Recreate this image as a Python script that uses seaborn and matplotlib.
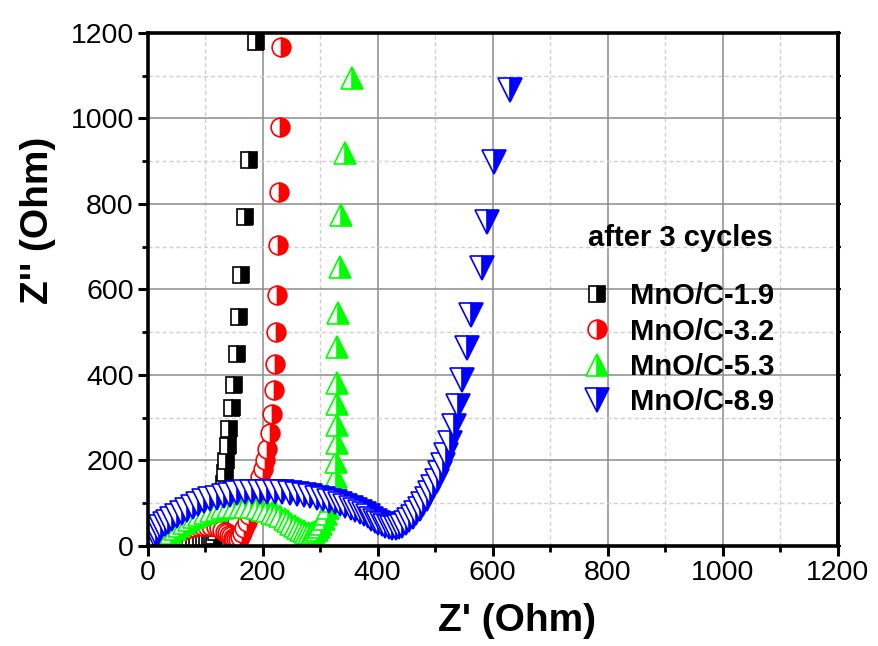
import matplotlib
matplotlib.use("Agg")
import matplotlib.pyplot as plt
import seaborn as sns
import pandas as pd
from matplotlib.ticker import MultipleLocator

sns.set_style("ticks")
plt.rcParams['font.family'] = ['Liberation Sans', 'DejaVu Sans']
plt.rcParams['text.color'] = 'black'
plt.rcParams['axes.labelcolor'] = 'black'
plt.rcParams['xtick.color'] = 'black'
plt.rcParams['ytick.color'] = 'black'

# ---------------- data ----------------
legend_title = "after 3 cycles"
labels = ["MnO/C-1.9", "MnO/C-3.2", "MnO/C-5.3", "MnO/C-8.9"]

zre_19 = [38, 44, 50, 56, 62, 68, 74, 80, 86, 92, 98, 103, 108, 112, 115, 118, 121, 123,
          125, 127, 129, 131, 133, 135, 137, 139, 142, 146, 151, 155, 159, 163, 169, 176, 188]
zim_19 = [2, 5, 8, 10, 12, 13, 14, 14, 14, 13, 13, 13, 15, 18, 24, 32, 42, 54,
          68, 84, 102, 122, 145, 170, 198, 234, 274, 323, 377, 449, 536, 634, 770, 903, 1179]

zre_32 = [22, 26, 31, 37, 43, 50, 57, 64, 72, 80, 88, 96, 104, 111, 118, 124, 129, 134, 138,
          142, 145, 148, 151, 154, 157, 160, 164, 168, 172, 176, 180, 184, 188, 192, 196, 200,
          204, 208, 212, 216, 219, 222, 224, 225, 226, 228, 230, 232]
zim_32 = [2, 7, 13, 19, 24, 29, 34, 38, 41, 44, 46, 47, 47, 46, 44, 41, 37, 33, 29,
          25, 22, 19, 17, 16, 17, 21, 30, 42, 56, 72, 88, 104, 121, 140, 160, 180,
          200, 227, 264, 309, 365, 426, 501, 587, 704, 828, 980, 1166]

zre_53 = [18, 22, 27, 33, 40, 47, 55, 63, 72, 81, 90, 100, 110, 120, 130, 140, 150, 160, 170,
          180, 190, 199, 208, 216, 224, 231, 238, 244, 250, 256, 261, 266, 271, 276, 281, 286,
          290, 294, 298, 302, 306, 310, 314, 318, 322, 325, 327, 328, 329, 329, 329, 329, 330,
          331, 334, 337, 344, 355]
zim_53 = [2, 8, 15, 23, 31, 39, 47, 54, 61, 67, 72, 77, 81, 85, 88, 90, 91, 92, 91,
          90, 88, 85, 82, 78, 74, 70, 64, 58, 52, 46, 41, 37, 34, 31, 30, 31,
          33, 37, 43, 51, 62, 75, 89, 104, 120, 138, 160, 196, 241, 283, 332, 381, 466,
          545, 653, 774, 919, 1095]

zre_89 = [8, 9, 10, 12, 15, 19, 24, 30, 36, 43, 51, 59, 68, 78, 88, 98, 109, 120, 132, 144,
          156, 169, 182, 195, 208, 221, 234, 247, 259, 271, 283, 294, 305, 315, 325, 335, 344,
          353, 361, 369, 376, 383, 389, 395, 401, 407, 413, 419, 425, 431, 437, 443, 449, 455,
          461, 467, 473, 479, 485, 491, 497, 503, 508, 514, 519, 525, 532, 539, 546, 556, 563,
          581, 590, 602, 630]
zim_89 = [2, 8, 15, 22, 29, 36, 43, 50, 57, 64, 71, 78, 85, 92, 98, 104, 109, 113, 117, 120,
          123, 125, 126, 127, 127, 126, 125, 123, 121, 119, 116, 113, 110, 106, 102, 98, 94,
          89, 84, 79, 74, 69, 64, 59, 54, 50, 46, 43, 41, 41, 43, 47, 53, 60,
          68, 77, 87, 98, 110, 123, 137, 152, 170, 190, 212, 241, 281, 327, 388, 463, 540,
          650, 758, 898, 1067]

x_ticks = [0, 200, 400, 600, 800, 1000, 1200]
y_ticks = [0, 200, 400, 600, 800, 1000, 1200]

# ---------------- styles ----------------
styles = [
    dict(color="#000000", marker="s", ms=11.5),
    dict(color="#FF0000", marker="o", ms=13.5),
    dict(color="#00FF00", marker="^", ms=15.5),
    dict(color="#0000FF", marker="v", ms=17.0),
]
series = [(zre_19, zim_19), (zre_32, zim_32), (zre_53, zim_53), (zre_89, zim_89)]

fig = plt.figure(figsize=(8.79, 6.46), dpi=100)
ax = fig.add_axes([0.168, 0.155, 0.785, 0.794])

for lab, (xs, ys), st in zip(labels, series, styles):
    df = pd.DataFrame({"Zre": xs, "Zim": ys})
    sns.lineplot(data=df, x="Zre", y="Zim", ax=ax, estimator=None, sort=False,
                 color=st["color"], linestyle="none", marker=st["marker"],
                 markersize=st["ms"], fillstyle="right", markerfacecoloralt="white",
                 markeredgecolor=st["color"], markeredgewidth=1.2, label=lab)

ax.set_xlim(0, 1200)
ax.set_ylim(0, 1200)
ax.set_xticks(x_ticks)
ax.set_yticks(y_ticks)
ax.xaxis.set_minor_locator(MultipleLocator(100))
ax.yaxis.set_minor_locator(MultipleLocator(100))

ax.set_axisbelow(True)
ax.grid(which="major", color="#8c8c8c", linestyle="-", linewidth=1.1)
ax.grid(which="minor", color="#cfcfcf", linestyle=(0, (3, 2)), linewidth=1.0)

for sp in ax.spines.values():
    sp.set_linewidth(2.6)
    sp.set_color("black")

ax.tick_params(which="major", direction="out", length=7, width=2.2,
               labelsize=20.5, colors="black", pad=3)
ax.tick_params(which="minor", direction="out", length=4.5, width=2.0)

sec = ax.secondary_yaxis("right")
sec.set_yticks(y_ticks)
sec.yaxis.set_minor_locator(MultipleLocator(100))
sec.tick_params(which="both", direction="out", length=2, width=1.5, labelright=False)
sec.spines["right"].set_linewidth(2.6)

ax.set_xlabel("Z' (Ohm)", fontsize=28, fontweight="bold")
ax.set_ylabel("Z'' (Ohm)", fontsize=28, fontweight="bold")
ax.xaxis.set_label_coords(0.535, -0.112)
ax.yaxis.set_label_coords(-0.133, 0.635)

leg = ax.legend(title=legend_title, loc="upper left", bbox_to_anchor=(0.634, 0.628),
                frameon=False, borderaxespad=0, borderpad=0,
                prop={"weight": "bold", "size": 21},
                title_fontproperties={"weight": "bold", "size": 21},
                handlelength=0.8, handletextpad=0.75, labelspacing=0.25)
leg._legend_box.sep = 22
for t in leg.get_texts():
    t.set_color("black")
leg.get_title().set_color("black")

fig.savefig("out.png", dpi=100)
